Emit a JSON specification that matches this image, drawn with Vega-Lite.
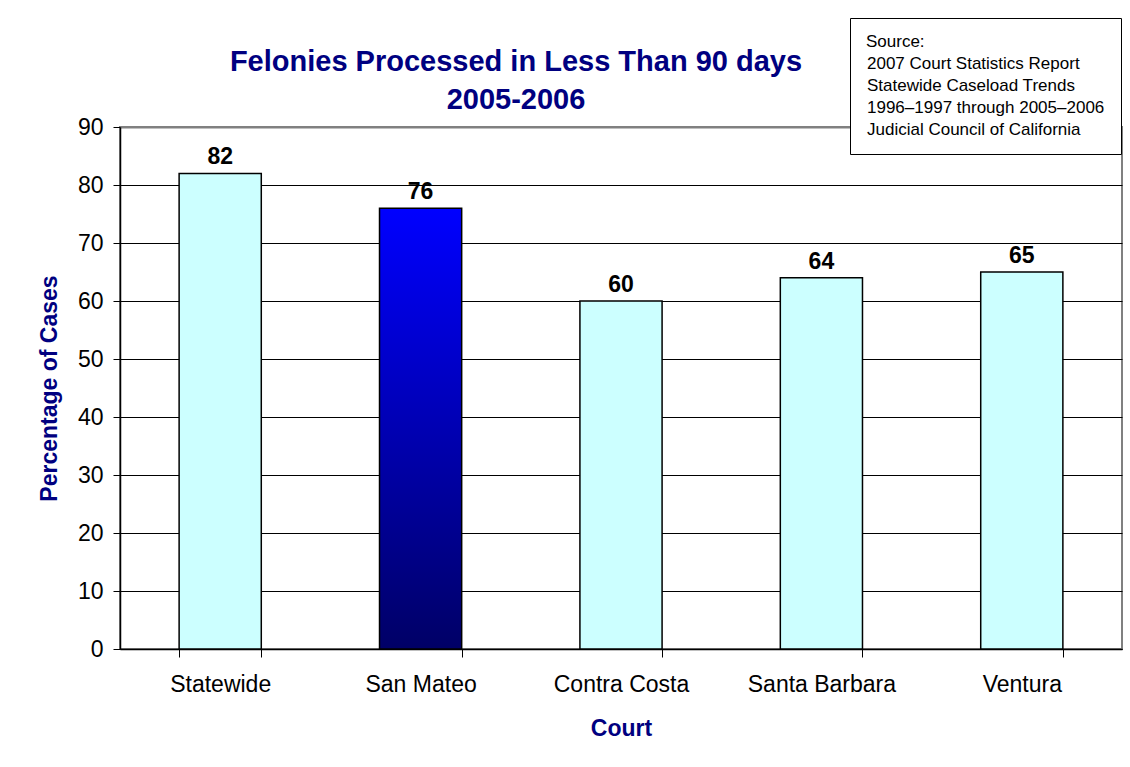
{
  "$schema": "https://vega.github.io/schema/vega-lite/v6.json",
  "autosize": {"type": "none"},
  "width": 1002,
  "height": 522,
  "padding": {"left": 120, "top": 127, "right": 8, "bottom": 118},
  "background": "#ffffff",
  "config": {
    "font": "Liberation Sans",
    "view": {"stroke": "#808080", "strokeWidth": 2}
  },
  "title": {
    "text": ["Felonies Processed in Less Than 90 days", "2005-2006"],
    "anchor": "middle",
    "frame": "group",
    "dx": -105,
    "offset": -97,
    "fontSize": 29,
    "fontWeight": "bold",
    "color": "#000080",
    "lineHeight": 38
  },
  "datasets": {
    "courts": [
      {"court": "Statewide", "pct": 82},
      {"court": "San Mateo", "pct": 76},
      {"court": "Contra Costa", "pct": 60},
      {"court": "Santa Barbara", "pct": 64},
      {"court": "Ventura", "pct": 65}
    ],
    "source": [
      {"line": "2007 Court Statistics Report"},
      {"line": "Statewide Caseload Trends"},
      {"line": "1996–1997 through 2005–2006"},
      {"line": "Judicial Council of California"}
    ]
  },
  "layer": [
    {
      "data": {"name": "courts"},
      "mark": {"type": "bar", "stroke": "#000000", "strokeWidth": 1.5},
      "encoding": {
        "x": {
          "field": "court",
          "type": "nominal",
          "sort": null,
          "scale": {"paddingInner": 0.59, "paddingOuter": 0.295},
          "axis": {
            "title": "Court",
            "titleFontSize": 23,
            "titleFontWeight": "bold",
            "titleColor": "#000080",
            "titlePadding": 21,
            "labelAngle": 0,
            "labelFontSize": 23,
            "labelColor": "#000000",
            "labelPadding": 16,
            "tickBand": "extent",
            "tickSize": 8,
            "tickColor": "#000000",
            "domainColor": "#000000",
            "domainWidth": 1.5,
            "grid": false
          }
        },
        "y": {
          "field": "pct",
          "type": "quantitative",
          "scale": {"domain": [0, 90], "nice": false},
          "axis": {
            "values": [0, 10, 20, 30, 40, 50, 60, 70, 80, 90],
            "title": "Percentage of Cases",
            "titleFontSize": 23,
            "titleFontWeight": "bold",
            "titleColor": "#000080",
            "titlePadding": 16,
            "labelFontSize": 23,
            "labelColor": "#000000",
            "labelPadding": 10,
            "tickSize": 7,
            "tickColor": "#000000",
            "domainColor": "#000000",
            "domainWidth": 1.5,
            "grid": true,
            "gridColor": {"condition": {"test": "datum.value === 90", "value": "#808080"}, "value": "#000000"},
            "gridWidth": {"condition": {"test": "datum.value === 90", "value": 2}, "value": 1}
          }
        },
        "color": {
          "condition": {
            "test": "datum.court === 'San Mateo'",
            "value": {
              "gradient": "linear",
              "x1": 0, "y1": 0, "x2": 0, "y2": 1,
              "stops": [
                {"offset": 0, "color": "#0000FF"},
                {"offset": 1, "color": "#000066"}
              ]
            }
          },
          "value": "#CCFFFF"
        }
      }
    },
    {
      "data": {"name": "courts"},
      "mark": {"type": "text", "baseline": "alphabetic", "dy": -9, "fontSize": 23, "fontWeight": "bold", "color": "#000000"},
      "encoding": {
        "x": {"field": "court", "type": "nominal", "sort": null},
        "y": {"field": "pct", "type": "quantitative"},
        "text": {"field": "pct", "type": "quantitative"}
      }
    },
    {
      "data": {"name": "source"},
      "mark": {"type": "point", "opacity": 0},
      "encoding": {
        "color": {
          "field": "line",
          "type": "nominal",
          "scale": {
            "domain": ["2007 Court Statistics Report", "Statewide Caseload Trends", "1996–1997 through 2005–2006", "Judicial Council of California"],
            "range": ["#ffffff", "#ffffff", "#ffffff", "#ffffff"]
          },
          "legend": {
            "orient": "none",
            "legendX": 730,
            "legendY": -109,
            "title": "Source:",
            "titleFontSize": 17,
            "titleFontWeight": "normal",
            "titleColor": "#000000",
            "titlePadding": 4,
            "labelFontSize": 17,
            "labelColor": "#000000",
            "labelLimit": 400,
            "labelOffset": -16,
            "symbolSize": 0,
            "symbolOpacity": 0,
            "symbolStrokeWidth": 0,
            "rowPadding": 4,
            "padding": 16,
            "strokeColor": "#000000",
            "fillColor": "#ffffff",
            "cornerRadius": 0
          }
        }
      }
    }
  ]
}
